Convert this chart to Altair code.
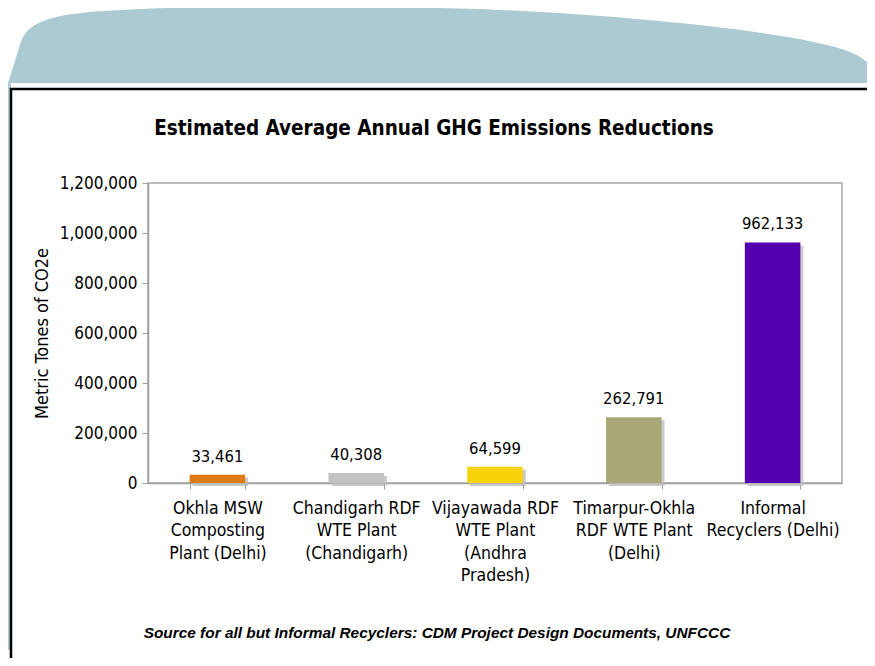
import altair as alt
import pandas as pd

# ---- data ----
categories = [
    "Okhla MSW|Composting|Plant (Delhi)",
    "Chandigarh RDF|WTE Plant|(Chandigarh)",
    "Vijayawada RDF|WTE Plant|(Andhra|Pradesh)",
    "Timarpur-Okhla|RDF WTE Plant|(Delhi)",
    "Informal|Recyclers (Delhi)",
]
values = [33461, 40308, 64599, 262791, 962133]
bar_colors = ["#DE7B12", "#C2C2C2", "#F8D30A", "#A9A878", "#5500AE"]
y_ticks = [0, 200000, 400000, 600000, 800000, 1000000, 1200000]

chart_title = "Estimated Average Annual GHG Emissions Reductions"
y_title = "Metric Tones of CO2e"
source_note = "Source for all but Informal Recyclers: CDM Project Design Documents, UNFCCC"

df = pd.DataFrame({"category": categories, "value": values})
one = pd.DataFrame({"k": [0]})

FONT = "DejaVu Sans Condensed, Noto Sans, DejaVu Sans"
TEAL = "#ABCAD1"
W, H = 694, 300
OX, OY = 148, 183  # plot origin on the page


def P(x, y):
    return f"{x - OX},{y - OY}"


top_shape = (
    "M" + P(8, 83) + " L" + P(19, 48)
    + " C" + P(25, 24) + " " + P(42, 17) + " " + P(90, 12)
    + " C" + P(180, 5) + " " + P(330, 5) + " " + P(480, 9)
    + " C" + P(640, 16) + " " + P(790, 32) + " " + P(845, 50)
    + " C" + P(868, 58) + " " + P(877, 70) + " " + P(877, 83) + " Z"
)
left_strip = (
    "M" + P(5, 83) + " L" + P(11, 83) + " L" + P(11, 650)
    + " L" + P(0, 650) + " L" + P(0, 160) + " Z"
)

deco_top = alt.Chart(one).mark_point(
    shape=top_shape, filled=True, size=4, opacity=1, color=TEAL, strokeWidth=0
).encode(x=alt.value(0), y=alt.value(0))
deco_left = alt.Chart(one).mark_point(
    shape=left_strip, filled=True, size=4, opacity=1, color=TEAL, strokeWidth=0
).encode(x=alt.value(0), y=alt.value(0))

box = alt.Chart(one).mark_rect(
    fillOpacity=0, stroke="black", strokeWidth=2.5
).encode(
    x=alt.value(11 - OX), x2=alt.value(890 - OX),
    y=alt.value(89 - OY), y2=alt.value(690 - OY),
)

x_enc = alt.X(
    "category:N", sort=None, title=None,
    scale=alt.Scale(paddingInner=0.6, paddingOuter=0.3),
    axis=alt.Axis(
        labelExpr="split(datum.label, '|')", labelAngle=0,
        labelFont=FONT, labelFontSize=17.5, labelColor="black",
        labelLineHeight=22.5, labelPadding=10, labelBaseline="top",
        tickBand="extent", tickSize=6, tickColor="#A0A0A0",
        domainColor="#A0A0A0", domainWidth=1.5,
    ),
)
y_enc = alt.Y(
    "value:Q", title=y_title,
    scale=alt.Scale(domain=[0, 1200000], nice=False),
    axis=alt.Axis(
        values=y_ticks, format=",d", grid=False,
        labelFont=FONT, labelFontSize=17, labelColor="black", labelPadding=5,
        tickSize=6, tickColor="#A0A0A0", domainColor="#A0A0A0", domainWidth=1.5,
        titleFont=FONT, titleFontSize=18, titleFontWeight="normal",
        titleColor="black", titlePadding=8,
    ),
)

shadow = alt.Chart(df).mark_bar(
    color="#BDBDBD", opacity=0.8, xOffset=3, yOffset=3
).encode(x=x_enc, y=y_enc)

bars = alt.Chart(df).mark_bar().encode(
    x=x_enc, y=y_enc,
    color=alt.Color("category:N", sort=None, legend=None,
                    scale=alt.Scale(domain=categories, range=bar_colors)),
)

labels = alt.Chart(df).mark_text(
    font=FONT, fontSize=16.5, color="black", baseline="bottom", dy=-10
).encode(x=x_enc, y=y_enc, text=alt.Text("value:Q", format=",d"))

title_txt = alt.Chart(one).mark_text(
    text=chart_title, font=FONT, fontSize=20.5, fontWeight="bold",
    color="black", align="center", baseline="middle",
).encode(x=alt.value(434 - OX), y=alt.value(129 - OY))

source_txt = alt.Chart(one).mark_text(
    text=source_note, font="Liberation Sans, Arial", fontSize=15.4,
    fontWeight="bold", fontStyle="italic", color="black",
    align="center", baseline="middle",
).encode(x=alt.value(437 - OX), y=alt.value(633 - OY))

chart = alt.layer(
    deco_top, deco_left, box, shadow, bars, labels, title_txt, source_txt
).properties(
    width=W, height=H,
    autosize=alt.AutoSizeParams(type="none"),
    padding={"left": 140, "top": 175, "right": 25, "bottom": 175},
    background="white",
).configure_view(stroke="#A8A8A8", strokeWidth=1.5)

chart.save("out.html", embed_options={"renderer": "svg", "actions": False})
